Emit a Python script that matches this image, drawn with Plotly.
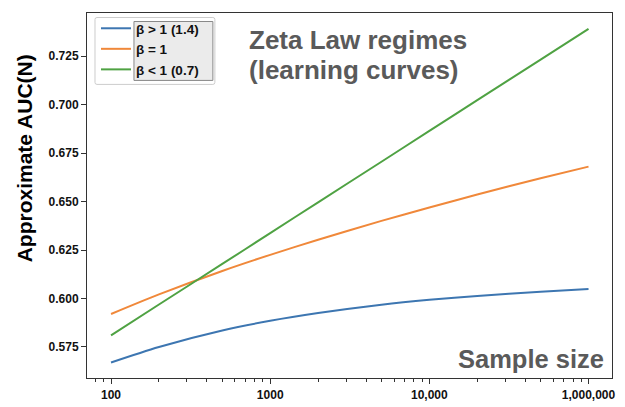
import plotly.graph_objects as go

# ---- data ----
sample_size = [100, 200, 500, 1000, 2000, 5000, 10000, 20000, 50000, 100000]
auc_beta_gt1 = [0.567, 0.575, 0.5835, 0.5885, 0.5925, 0.5968, 0.5993, 0.6013, 0.6035, 0.6049]
auc_beta_eq1 = [0.592, 0.6021, 0.6142, 0.6225, 0.6303, 0.6400, 0.6469, 0.6536, 0.6620, 0.668]
auc_beta_lt1 = [0.581, 0.5969, 0.6178, 0.6337, 0.6496, 0.6705, 0.6864, 0.7023, 0.7232, 0.739]
series_names = ["β &gt; 1 (1.4)", "β = 1", "β &lt; 1 (0.7)"]
x_tick_vals = [100, 1000, 10000, 100000]
x_tick_text = ["100", "1000", "10,000", "1,000,000"]
y_tick_vals = [0.575, 0.600, 0.625, 0.650, 0.675, 0.700, 0.725]

colors = ["#3d76b1", "#f0883a", "#4fa243"]
FONT = "Liberation Sans, Arial, sans-serif"

W, H = 625, 407
L, R, T, B = 87, 612.5, 12.5, 378


def px(xp):
    return (xp - L) / (R - L)


def py(yp):
    return (B - yp) / (B - T)


fig = go.Figure()
for name, ys, c in zip(series_names, [auc_beta_gt1, auc_beta_eq1, auc_beta_lt1], colors):
    fig.add_trace(go.Scatter(x=sample_size, y=ys, mode="lines", name=name,
                             line=dict(color=c, width=2, shape="spline", smoothing=0.8)))

axis_common = dict(showline=True, linecolor="#333333", linewidth=1, mirror=True,
                   ticks="outside", tickcolor="#333333", ticklen=5, showgrid=False,
                   zeroline=False, automargin=False,
                   tickfont=dict(family=FONT, size=12, color="#111111", weight="bold"))

fig.update_xaxes(type="log", range=[1.849, 5.1475], tickmode="array",
                 tickvals=x_tick_vals, ticktext=x_tick_text, ticklabelstandoff=1,
                 minor=dict(ticks="outside", ticklen=3, tickcolor="#333333", dtick="D1",
                            showgrid=False),
                 **axis_common)
fig.update_yaxes(range=[0.559, 0.7472], tickmode="array", tickvals=y_tick_vals,
                 ticktext=[f"{v:.3f}" for v in y_tick_vals], **axis_common)

shapes = [
    dict(type="path", xref="paper", yref="paper",
         path=(f"M {px(97)},{py(17)} L {px(213)},{py(17)} Q {px(215)},{py(17)} {px(215)},{py(19)} "
               f"L {px(215)},{py(82)} Q {px(215)},{py(84)} {px(213)},{py(84)} "
               f"L {px(97)},{py(84)} Q {px(95)},{py(84)} {px(95)},{py(82)} "
               f"L {px(95)},{py(19)} Q {px(95)},{py(17)} {px(97)},{py(17)} Z"),
         fillcolor="white", line=dict(color="#cccccc", width=1), layer="above"),
    dict(type="rect", xref="paper", yref="paper", x0=px(134), x1=px(213), y0=py(21), y1=py(80),
         fillcolor="#ebebeb", line=dict(color="#888888", width=1), layer="above"),
]

title_font = dict(family=FONT, size=26, color="#5a5a5a", weight="bold")
annotations = [
    dict(text="Zeta Law regimes", xref="paper", yref="paper",
         x=px(247), y=py(40), xanchor="left", yanchor="middle", showarrow=False,
         font=title_font),
    dict(text="(learning curves)", xref="paper", yref="paper",
         x=px(247), y=py(70), xanchor="left", yanchor="middle", showarrow=False,
         font=title_font),
    dict(text="Sample size", xref="paper", yref="paper", x=px(606), y=py(359),
         xanchor="right", yanchor="middle", showarrow=False,
         font=dict(family=FONT, size=25.5, color="#5a5a5a", weight="bold")),
    dict(text="Approximate AUC(N)", xref="paper", yref="paper", x=px(24), y=py(158),
         xanchor="center", yanchor="middle", textangle=-90, showarrow=False,
         font=dict(family=FONT, size=21, color="#000000", weight="bold")),
]

fig.update_layout(
    width=W, height=H,
    margin=dict(l=L, r=W - R, t=T, b=H - B, pad=0),
    plot_bgcolor="white", paper_bgcolor="white",
    shapes=shapes, annotations=annotations,
    legend=dict(x=px(96), y=py(12.5), xanchor="left", yanchor="top",
                bgcolor="rgba(0,0,0,0)", borderwidth=0,
                font=dict(family=FONT, size=13.5, color="#111111", weight="bold"),
                itemwidth=30, tracegroupgap=0),
    showlegend=True,
)

fig.write_html("out.html")
